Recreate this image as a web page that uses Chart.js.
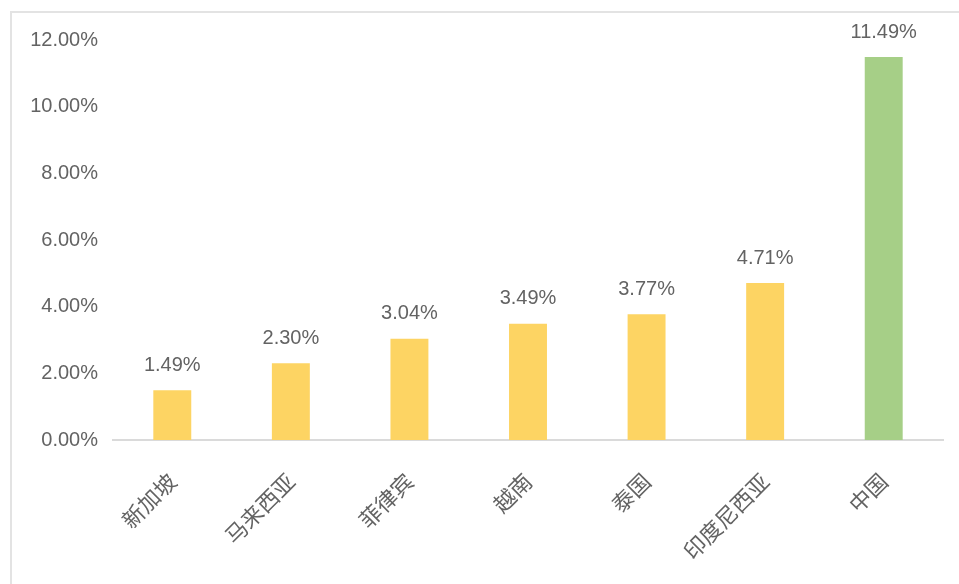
<!DOCTYPE html>
<html>
<head>
<meta charset="utf-8">
<script src="https://cdn.jsdelivr.net/npm/chart.js@4.4.1/dist/chart.umd.min.js"></script>
<style>
  html, body { margin: 0; padding: 0; background: #fff; }
  #frame {
    position: absolute; left: 10px; top: 11px; width: 960px; height: 600px;
    border: 2px solid #e3e3e3; box-sizing: border-box;
  }
  #wrap { position: absolute; left: 0; top: 0; width: 959px; height: 584px; }
</style>
</head>
<body>
<div id="frame"></div>
<div id="wrap"><canvas id="cBar"></canvas></div>
<script>
// dados
const paises  = ["新加坡", "马来西亚", "菲律宾", "越南", "泰国", "印度尼西亚", "中国"];
const valores = [1.49, 2.30, 3.04, 3.49, 3.77, 4.71, 11.49];
const cores   = ["#fdd463", "#fdd463", "#fdd463", "#fdd463", "#fdd463", "#fdd463", "#a6cf87"];
const yTicks  = [0, 2, 4, 6, 8, 10, 12];

const fonteNum = "'Liberation Sans', sans-serif";
const fonteCat = "'Noto Sans CJK SC', sans-serif";
const corTxt   = "#636363";

/* ── RÓTULOS DE DADOS ── */
const rotulos = {
  id: "rotulos",
  afterDatasetsDraw(chart) {
    const ctx = chart.ctx;
    const meta = chart.getDatasetMeta(0);
    ctx.save();
    ctx.font = "20px " + fonteNum;
    ctx.fillStyle = corTxt;
    ctx.textAlign = "center";
    ctx.textBaseline = "middle";
    meta.data.forEach((bar, i) => {
      ctx.fillText(valores[i].toFixed(2) + "%", bar.x, bar.y - 25);
    });
    ctx.restore();
  }
};

new Chart(document.getElementById("cBar"), {
  type: "bar",
  data: {
    labels: paises,
    datasets: [{ data: valores, backgroundColor: cores, borderWidth: 0,
                 barPercentage: 0.32, categoryPercentage: 1 }]
  },
  options: {
    responsive: true,
    maintainAspectRatio: false,
    animation: false,
    layout: { padding: { top: 40, right: 16, left: 0, bottom: 0 } },
    plugins: { legend: { display: false }, tooltip: { enabled: false } },
    scales: {
      x: {
        afterFit: s => { s.height = 144; },
        grid: { display: false, drawTicks: false },
        border: { color: "#dadada", width: 2 },
        ticks: { color: corTxt, font: { size: 22, family: fonteCat },
                 minRotation: 45, maxRotation: 45, padding: 28 }
      },
      y: {
        min: 0, max: 12,
        afterFit: s => { s.width = 113; },
        afterBuildTicks: s => { s.ticks = yTicks.map(v => ({ value: v })); },
        grid: { display: false, drawTicks: false },
        border: { display: false },
        ticks: { color: corTxt, font: { size: 20, family: fonteNum }, padding: 15,
                 callback: v => v.toFixed(2) + "%" }
      }
    }
  },
  plugins: [rotulos]
});
</script>
</body>
</html>
